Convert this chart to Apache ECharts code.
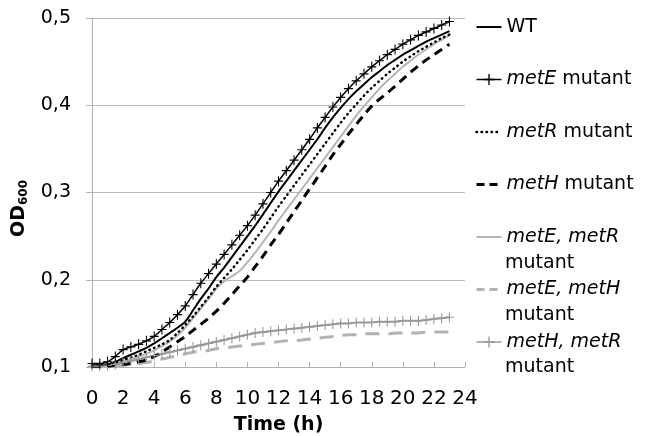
<!DOCTYPE html>
<html>
<head>
<meta charset="utf-8">
<script src="https://cdn.jsdelivr.net/npm/echarts@6/dist/echarts.min.js"></script>
<style>
html, body { margin: 0; padding: 0; background: #fff; }
#myChart { width: 647px; height: 436px; }
</style>
</head>
<body>
<div id="myChart"></div>
<script>
// time points (h), one reading every half hour
var hours = [0, 0.5, 1, 1.5, 2, 2.5, 3, 3.5, 4, 4.5, 5, 5.5, 6, 6.5, 7, 7.5, 8, 8.5, 9, 9.5,
  10, 10.5, 11, 11.5, 12, 12.5, 13, 13.5, 14, 14.5, 15, 15.5, 16, 16.5, 17, 17.5, 18, 18.5,
  19, 19.5, 20, 20.5, 21, 21.5, 22, 22.5, 23];

var wt = [0.102, 0.102, 0.103, 0.106, 0.110, 0.114, 0.118, 0.122, 0.127, 0.133, 0.139, 0.145,
  0.152, 0.165, 0.178, 0.190, 0.203, 0.214, 0.226, 0.238, 0.250, 0.262, 0.275, 0.288, 0.301,
  0.313, 0.325, 0.337, 0.349, 0.361, 0.374, 0.386, 0.397, 0.407, 0.416, 0.424, 0.432, 0.439,
  0.446, 0.452, 0.458, 0.463, 0.468, 0.473, 0.477, 0.481, 0.485];

var metE = [0.104, 0.104, 0.106, 0.112, 0.120, 0.123, 0.126, 0.130, 0.135, 0.143, 0.151, 0.160,
  0.170, 0.183, 0.196, 0.207, 0.218, 0.229, 0.240, 0.251, 0.262, 0.274, 0.287, 0.300, 0.313,
  0.325, 0.337, 0.349, 0.361, 0.374, 0.386, 0.398, 0.409, 0.419, 0.428, 0.436, 0.444, 0.451,
  0.458, 0.464, 0.470, 0.475, 0.480, 0.484, 0.488, 0.492, 0.496];

var metR = [0.102, 0.102, 0.103, 0.105, 0.108, 0.111, 0.114, 0.118, 0.122, 0.126, 0.131, 0.139,
  0.148, 0.158, 0.169, 0.180, 0.192, 0.202, 0.212, 0.223, 0.234, 0.246, 0.258, 0.271, 0.284,
  0.296, 0.308, 0.320, 0.332, 0.344, 0.356, 0.368, 0.380, 0.391, 0.401, 0.411, 0.420, 0.428,
  0.436, 0.443, 0.450, 0.456, 0.462, 0.467, 0.472, 0.477, 0.481];

var metH = [0.101, 0.101, 0.101, 0.102, 0.103, 0.104, 0.106, 0.108, 0.112, 0.117, 0.123, 0.129,
  0.135, 0.142, 0.149, 0.156, 0.164, 0.173, 0.183, 0.193, 0.203, 0.215, 0.227, 0.240, 0.252,
  0.265, 0.278, 0.291, 0.304, 0.317, 0.330, 0.343, 0.355, 0.367, 0.378, 0.389, 0.399, 0.407,
  0.414, 0.422, 0.430, 0.438, 0.445, 0.452, 0.458, 0.464, 0.470];

var metEmetR = [0.101, 0.101, 0.102, 0.104, 0.106, 0.109, 0.112, 0.115, 0.119, 0.124, 0.129, 0.136,
  0.145, 0.156, 0.167, 0.178, 0.190, 0.198, 0.204, 0.210, 0.220, 0.231, 0.243, 0.255, 0.268,
  0.280, 0.292, 0.304, 0.316, 0.328, 0.340, 0.352, 0.364, 0.376, 0.388, 0.399, 0.409, 0.419,
  0.428, 0.436, 0.444, 0.451, 0.458, 0.464, 0.470, 0.475, 0.480];

var metEmetH = [0.100, 0.100, 0.101, 0.101, 0.102, 0.103, 0.104, 0.105, 0.107, 0.109, 0.111, 0.113,
  0.115, 0.117, 0.118, 0.119, 0.121, 0.122, 0.123, 0.124, 0.125, 0.126, 0.127, 0.128, 0.129,
  0.130, 0.130, 0.131, 0.132, 0.133, 0.134, 0.135, 0.136, 0.137, 0.137, 0.138, 0.138, 0.138,
  0.138, 0.139, 0.139, 0.139, 0.139, 0.140, 0.140, 0.140, 0.140];

var metHmetR = [0.101, 0.101, 0.102, 0.103, 0.105, 0.107, 0.109, 0.111, 0.113, 0.115, 0.117, 0.119,
  0.121, 0.123, 0.125, 0.127, 0.129, 0.131, 0.133, 0.135, 0.137, 0.139, 0.140, 0.141, 0.142,
  0.143, 0.144, 0.145, 0.146, 0.147, 0.148, 0.149, 0.150, 0.150, 0.151, 0.151, 0.151, 0.152,
  0.152, 0.152, 0.153, 0.153, 0.153, 0.154, 0.155, 0.156, 0.157];

var seriesNames = ['WT', 'metE mutant', 'metR mutant', 'metH mutant',
  'metE, metR mutant', 'metE, metH mutant', 'metH, metR mutant'];
var xTicks = [0, 2, 4, 6, 8, 10, 12, 14, 16, 18, 20, 22, 24];
var yTicks = [0.1, 0.2, 0.3, 0.4, 0.5];

var FONT = 'DejaVu Sans';
var crossPath = 'path://M4.4,0 L5.6,0 L5.6,4.4 L10,4.4 L10,5.6 L5.6,5.6 L5.6,10 L4.4,10 L4.4,5.6 L0,5.6 L0,4.4 L4.4,4.4 Z';

function pairs(vals) {
  var out = [];
  for (var i = 0; i < hours.length; i++) {
    out.push([hours[i], vals[i]]);
  }
  return out;
}

var myChart = echarts.init(document.getElementById('myChart'));
var option = {
  animation: false,
  backgroundColor: '#fff',
  grid: { left: 92, right: 182, top: 18, bottom: 69, outerBoundsMode: 'none', containLabel: false },
  xAxis: {
    type: 'value',
    min: 0, max: 24, interval: 2,
    name: 'Time (h)',
    nameLocation: 'middle',
    nameGap: 49,
    nameTextStyle: { fontFamily: FONT, fontSize: 19, fontWeight: 'bold', color: '#000' },
    axisLine: { lineStyle: { color: '#b5b0b0', width: 1 } },
    axisTick: { inside: true, length: 5, lineStyle: { color: '#b5b0b0' } },
    axisLabel: {
      margin: 22, fontFamily: FONT, fontSize: 20, color: '#000',
      formatter: function (v) { return xTicks.indexOf(v) >= 0 ? String(v) : ''; }
    },
    splitLine: { show: false }
  },
  yAxis: {
    type: 'value',
    min: 0.1, max: 0.5, interval: 0.1,
    name: '{od|OD}{sub|600}',
    nameLocation: 'middle',
    nameGap: 53,
    nameRotate: 90,
    nameTextStyle: {
      padding: [0, 32, 0, 0],
      rich: {
        od: { fontFamily: FONT, fontSize: 19, fontWeight: 'bold', color: '#000' },
        sub: { fontFamily: FONT, fontSize: 12, fontWeight: 'bold', color: '#000', padding: [10, 0, 0, 0] }
      }
    },
    axisLine: { show: true, lineStyle: { color: '#b5b0b0', width: 1 } },
    axisTick: { show: true, length: 6, lineStyle: { color: '#b5b0b0' } },
    axisLabel: {
      margin: 21, fontFamily: FONT, fontSize: 19, color: '#000',
      formatter: function (v) {
        var t = Math.round(v * 10) / 10;
        return yTicks.indexOf(t) >= 0 ? t.toFixed(1).replace('.', ',') : '';
      }
    },
    splitLine: { show: true, lineStyle: { color: '#bdb8b8', width: 1 } }
  },
  legend: {
    orient: 'vertical',
    left: 475,
    top: 17,
    padding: 0,
    itemWidth: 25,
    itemHeight: 14,
    itemGap: 32.5,
    textStyle: {
      fontFamily: FONT, fontSize: 19, color: '#000', lineHeight: 20,
      rich: {
        n: { fontFamily: FONT, fontSize: 19, color: '#000', lineHeight: 20 },
        i: { fontFamily: FONT, fontSize: 19, fontStyle: 'italic', color: '#000', lineHeight: 20 }
      }
    },
    formatter: function (name) {
      if (name === 'WT') return '{n|WT}';
      var gene = name.replace(' mutant', '');
      if (gene.indexOf(',') >= 0) return '{i|' + gene + '}';
      return '{i|' + gene + '}{n| mutant}';
    },
    data: [
      { name: seriesNames[0], itemStyle: { opacity: 0 }, lineStyle: { width: 2 } },
      { name: seriesNames[1], lineStyle: { width: 1.5 } },
      { name: seriesNames[2], itemStyle: { opacity: 0 }, lineStyle: { width: 2.5, type: [0.5, 4.5], cap: 'round' } },
      { name: seriesNames[3], itemStyle: { opacity: 0 }, lineStyle: { width: 3, type: [8, 5] } },
      { name: seriesNames[4], itemStyle: { opacity: 0 }, lineStyle: { width: 2 } },
      { name: seriesNames[5], itemStyle: { opacity: 0 }, lineStyle: { width: 3, type: [8, 5] } },
      { name: seriesNames[6], lineStyle: { width: 1.5 } }
    ]
  },
  graphic: [
    { type: 'text', left: 505, top: 254, style: { text: 'mutant', fontFamily: FONT, fontSize: 19, fill: '#000' } },
    { type: 'text', left: 505, top: 306, style: { text: 'mutant', fontFamily: FONT, fontSize: 19, fill: '#000' } },
    { type: 'text', left: 505, top: 358, style: { text: 'mutant', fontFamily: FONT, fontSize: 19, fill: '#000' } }
  ],
  series: [
    {
      name: seriesNames[5], type: 'line', data: pairs(metEmetH), smooth: 0.3,
      symbol: 'none', color: '#b7b0ae',
      lineStyle: { color: '#b7b0ae', width: 3, type: [14, 9] }
    },
    {
      name: seriesNames[6], type: 'line', data: pairs(metHmetR), smooth: 0.3,
      symbol: crossPath, symbolSize: [9, 10], color: '#9c9797',
      itemStyle: { color: '#9c9797' },
      lineStyle: { color: '#9c9797', width: 2 }
    },
    {
      name: seriesNames[4], type: 'line', data: pairs(metEmetR), smooth: 0.3,
      symbol: 'none', color: '#b9b4b4',
      lineStyle: { color: '#b9b4b4', width: 2 }
    },
    {
      name: seriesNames[3], type: 'line', data: pairs(metH), smooth: 0.3,
      symbol: 'none', color: '#000',
      lineStyle: { color: '#000', width: 3, type: [9, 6] }
    },
    {
      name: seriesNames[2], type: 'line', data: pairs(metR), smooth: 0.3,
      symbol: 'none', color: '#000',
      lineStyle: { color: '#000', width: 2.5, type: [0.5, 4.5], cap: 'round' }
    },
    {
      name: seriesNames[0], type: 'line', data: pairs(wt), smooth: 0.3,
      symbol: 'none', color: '#000',
      lineStyle: { color: '#000', width: 2 }
    },
    {
      name: seriesNames[1], type: 'line', data: pairs(metE), smooth: 0.3,
      symbol: crossPath, symbolSize: [9, 10], color: '#000',
      itemStyle: { color: '#000' },
      lineStyle: { color: '#000', width: 1.5 }
    }
  ]
};
myChart.setOption(option);
</script>
</body>
</html>
